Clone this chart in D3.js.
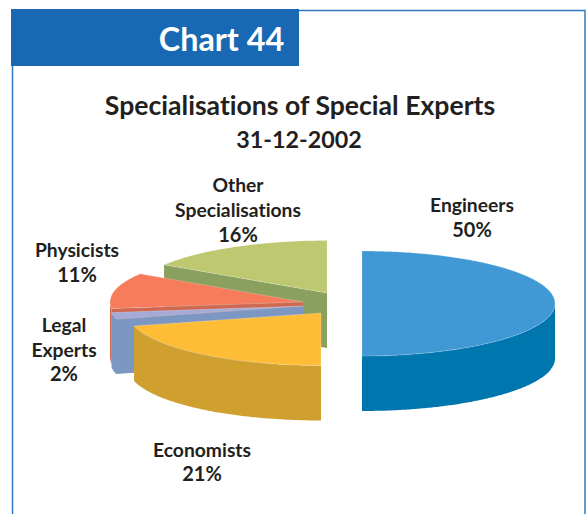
<!DOCTYPE html>
<html><head><meta charset="utf-8">
<script src="https://cdn.jsdelivr.net/npm/d3@7/dist/d3.min.js"></script>
<style>html,body{margin:0;padding:0;background:#fff}svg{display:block}text{font-variant-ligatures:none;font-feature-settings:"liga" 0}</style>
</head><body><svg id="c" width="586" height="514"></svg>
<script>
const categories = ["Engineers","Economists","Legal Experts","Physicists","Other Specialisations"];
const values = [50,21,2,11,16];
const labelLines = [["Engineers"],["Economists"],["Legal","Experts"],["Physicists"],["Other","Specialisations"]];
const topColors = ["#4099d5","#ffbc37","#a5abd6","#f67c5c","#bdc871"];
const sideColors = ["#0076ae","#cfa02f","#7c98c2","#ce6850","#8aa05f"];
const title = ["Specialisations of Special Experts","31-12-2002"];
const chartTag = "Chart 44";

// layout (not data)
const apex = [[362,303.5],[321,313],[303,306],[303,302],[327,293]];
const labelPos = [[472,205],[202,450],[64,325],[77,250],[238,185]];
const labelStep = [25,24,24.5,25,25];
const rx = 193, ry = 52.5, depth = 55;
const font = "Lato, 'Open Sans', sans-serif";

const svg = d3.select("#c");
const ink = "#231f20", frame = "#2f78c0";

// frame
const fp = d3.path();
fp.moveTo(12.5,66); fp.lineTo(12.5,514);
fp.moveTo(299,10.5); fp.lineTo(585,10.5); fp.lineTo(585,514);
svg.append("path").attr("d",fp.toString()).attr("fill","none").attr("stroke",frame).attr("stroke-width",1.5);
svg.append("rect").attr("x",11).attr("y",9).attr("width",288).attr("height",57).attr("fill","#1868b3");
svg.append("text").attr("x",221.5).attr("y",51).attr("text-anchor","middle")
  .attr("font-family",font).attr("font-weight",700).attr("font-size",32.3).attr("fill","#fff").text(chartTag);

// titles
svg.append("text").attr("x",300).attr("y",115).attr("text-anchor","middle")
  .attr("font-family",font).attr("font-weight",700).attr("font-size",26.6).attr("fill",ink).text(title[0]);
svg.append("text").attr("x",299).attr("y",148).attr("text-anchor","middle")
  .attr("font-family",font).attr("font-weight",700).attr("font-size",23.3).attr("fill",ink).text(title[1]);

// pie
const arcs = d3.pie().sort(null).value(d=>d).startAngle(0).endAngle(2*Math.PI)(values);
const angle = d3.scaleLinear().domain([0,1]);
const slices = arcs.map((a,i)=>({i,start:a.startAngle,end:a.endAngle,cx:apex[i][0],cy:apex[i][1]}));
const pt = (s,t,dz=0)=>[s.cx+rx*Math.sin(t), s.cy-ry*Math.cos(t)+dz];
const line = d3.line();

function sweep(s,t0,t1,dz){
  const n = Math.max(2,Math.ceil(Math.abs(t1-t0)/0.01));
  angle.range([t0,t1]);
  return d3.range(n+1).map(k=>pt(s,angle(k/n),dz));
}
function topPath(s){ return line([[s.cx,s.cy],...sweep(s,s.start,s.end,0)])+"Z"; }
function wallPath(s){
  const a = Math.max(s.start,Math.PI/2), b = Math.min(s.end,3*Math.PI/2);
  if(b<=a) return null;
  return line([...sweep(s,a,b,0),...sweep(s,b,a,depth)])+"Z";
}
function cutPath(s,t){
  const p = pt(s,t,0), q = pt(s,t,depth);
  return line([[s.cx,s.cy],p,q,[s.cx,s.cy+depth]])+"Z";
}

const order = [4,3,2,1,0];
const g = svg.append("g");
order.forEach(i=>{
  const s = slices[i];
  if(s.start>Math.PI+1e-6) g.append("path").attr("d",cutPath(s,s.start)).attr("fill",sideColors[i]);
  const w = wallPath(s);
  if(w) g.append("path").attr("d",w).attr("fill",sideColors[i]);
  g.append("path").attr("d",topPath(s)).attr("fill",topColors[i])
    .attr("stroke","#fff").attr("stroke-opacity",.35).attr("stroke-width",.6);
});

// labels
categories.forEach((c,i)=>{
  const lines = [...labelLines[i], d3.format(".0f")(values[i])+"%"];
  lines.forEach((t,k)=>{
    svg.append("text").attr("x",labelPos[i][0]).attr("y",labelPos[i][1]+k*labelStep[i]+7)
      .attr("text-anchor","middle").attr("font-family",font).attr("font-weight",700)
      .attr("font-size",k===lines.length-1?20:19.3).attr("fill",ink).text(t);
  });
});
</script></body></html>
